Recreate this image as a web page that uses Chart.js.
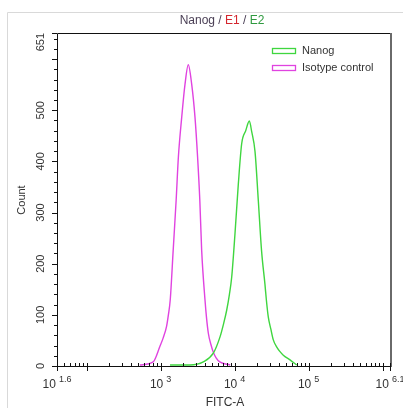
<!DOCTYPE html>
<html>
<head>
<meta charset="utf-8">
<script src="https://cdn.jsdelivr.net/npm/chart.js@4/dist/chart.umd.min.js"></script>
<style>
html,body{margin:0;padding:0;background:#fff;}
canvas{display:block;}
</style>
</head>
<body>
<canvas id="c" width="403" height="408"></canvas>
<script>
// ---- data ----
const isotypeFITC  = [525, 794, 977, 1084, 1202, 1274, 1349, 1479, 1622, 1738, 1928, 2138, 2366, 2630, 2917, 3162, 3388, 3589, 3981, 4169, 4416, 4786, 5129, 5623, 6310, 8710];
const isotypeCount = [2,   8,   38,  55,   77,   100,  129,  226,  324,  408,  486,  551,  589,  551,  486,  408,  324,  226,  129,  95,   64,   42,   28,   16,   8,    2];

const nanogFITC  = [1340, 2495, 3776, 5152, 6353, 7079, 7816, 8511, 9141, 10116, 11220, 12474, 14125, 15812, 17022, 18880, 20941, 23174, 25704, 26915, 28510, 30903, 33343, 37154, 41115, 45499, 56105, 69024];
const nanogCount = [2,    2,    8,    25,   57,   82,   109,  140,  174,  258,   355,   435,   460,   479,   458,   419,   322,   224,   160,   128,   96,    72,    51,    37,    28,    21,    12,    2];

const seriesNames = ["Nanog", "Isotype control"];
const xMajorExp   = ["1.6", "3", "4", "5", "6.1"];
const xMajorVals  = [39.81, 1000, 10000, 100000, 1258925];
const yTickVals   = [0, 100, 200, 300, 400, 500, 651];
const yMin = 0, yMax = 651;
const xMin = 39.81, xMax = 1258925;
const titleParts = [["Nanog", "#4a3f55"], [" / ", "#4a3f55"], ["E1", "#d4262e"], [" / ", "#4a3f55"], ["E2", "#2f9a3f"]];
const xTitle = "FITC-A", yTitle = "Count";

const GREEN = "#3fd63f", MAGENTA = "#e043e0";
const FONT = "'Liberation Sans', Arial, sans-serif";

function pts(xs, ys){ return xs.map((x,i)=>({x:x, y:ys[i]})); }

const decor = {
  id: 'decor',
  afterDraw(chart){
    const ctx = chart.ctx, a = chart.chartArea;
    const xs = chart.scales.x, ys = chart.scales.y;
    ctx.save();
    // outer light frame
    ctx.strokeStyle = "#d9d9d9"; ctx.lineWidth = 1;
    ctx.beginPath(); ctx.moveTo(7.5, 408); ctx.lineTo(7.5, 12.5); ctx.lineTo(403, 12.5); ctx.stroke();
    // plot border
    ctx.strokeStyle = "#111"; ctx.lineWidth = 1;
    ctx.beginPath();
    ctx.moveTo(a.left + 0.5, a.bottom + 0.5); ctx.lineTo(a.left + 0.5, a.top + 0.5); ctx.lineTo(a.right, a.top + 0.5);
    ctx.moveTo(a.left, a.bottom + 0.5); ctx.lineTo(a.right, a.bottom + 0.5);
    ctx.stroke();
    ctx.strokeStyle = "#6a6a6a"; ctx.lineWidth = 2;
    ctx.beginPath(); ctx.moveTo(a.right + 1, a.top); ctx.lineTo(a.right + 1, a.bottom + 1); ctx.stroke();

    // y ticks
    ctx.strokeStyle = "#111"; ctx.lineWidth = 1;
    ctx.beginPath();
    for (let v = 0; v <= 640; v += 20) {
      const y = Math.round(ys.getPixelForValue(v)) + 0.5;
      const len = (v % 100 === 0) ? 5 : 3;
      ctx.moveTo(a.left - len, y); ctx.lineTo(a.left, y);
    }
    const yt = Math.round(ys.getPixelForValue(651)) + 0.5;
    ctx.moveTo(a.left - 5, yt); ctx.lineTo(a.left, yt);
    ctx.stroke();
    // y labels
    ctx.fillStyle = "#333"; ctx.font = "11px " + FONT; ctx.textBaseline = "middle";
    yTickVals.forEach(v => {
      let y = ys.getPixelForValue(v);
      const s = String(v);
      ctx.save();
      ctx.translate(41, y);
      ctx.rotate(-Math.PI/2);
      if (v === 651) { ctx.textAlign = "right"; ctx.fillText(s, 0, 0); }
      else { ctx.textAlign = "center"; ctx.fillText(s, 0, 0); }
      ctx.restore();
    });
    // y title
    ctx.save(); ctx.translate(22, 200); ctx.rotate(-Math.PI/2);
    ctx.textAlign = "center"; ctx.fillStyle = "#333"; ctx.font = "11px " + FONT;
    ctx.fillText(yTitle, 0, 0); ctx.restore();

    // x ticks
    ctx.beginPath();
    for (let e = 1; e <= 6; e++) {
      for (let m = 1; m <= 9; m++) {
        const v = m * Math.pow(10, e);
        if (v < xMin || v > xMax) continue;
        const x = Math.round(xs.getPixelForValue(v)) + 0.5;
        if (m === 1) { ctx.moveTo(x, a.bottom - 3); ctx.lineTo(x, a.bottom + 5); }
        else { ctx.moveTo(x, a.bottom - 3); ctx.lineTo(x, a.bottom); }
      }
    }
    [xMin, xMax].forEach(v => { const x = Math.round(xs.getPixelForValue(v)) + 0.5; ctx.moveTo(x, a.bottom - 3); ctx.lineTo(x, a.bottom + 5); });
    ctx.stroke();
    // x labels with superscripts
    ctx.textBaseline = "alphabetic"; ctx.textAlign = "left"; ctx.fillStyle = "#333";
    xMajorVals.forEach((v, i) => {
      const x = xs.getPixelForValue(v);
      ctx.font = "12px " + FONT; const w1 = ctx.measureText("10").width;
      ctx.font = "9px " + FONT; const w2 = ctx.measureText(xMajorExp[i]).width;
      const gap = 3;
      const start = x - (w1 + gap + w2) / 2;
      ctx.font = "12px " + FONT; ctx.fillText("10", start, 388);
      ctx.font = "9px " + FONT; ctx.fillText(xMajorExp[i], start + w1 + gap, 382);
    });
    // x title
    ctx.font = "12px " + FONT; ctx.textAlign = "center"; ctx.fillStyle = "#333";
    ctx.fillText(xTitle, 225, 406);

    // title
    ctx.font = "12px " + FONT; ctx.textAlign = "left"; ctx.textBaseline = "alphabetic";
    let tw = 0; titleParts.forEach(p => tw += ctx.measureText(p[0]).width);
    let tx = 222 - tw / 2;
    titleParts.forEach(p => { ctx.fillStyle = p[1]; ctx.fillText(p[0], tx, 24); tx += ctx.measureText(p[0]).width; });

    // legend
    const cols = [GREEN, MAGENTA];
    ctx.font = "11px " + FONT; ctx.textBaseline = "middle";
    seriesNames.forEach((n, i) => {
      const y = 51 + i * 17;
      ctx.strokeStyle = cols[i]; ctx.lineWidth = 1.3;
      ctx.strokeRect(272.5, y - 2.5, 23, 5);
      ctx.fillStyle = "#333"; ctx.fillText(n, 302, y);
    });
    ctx.restore();
  }
};

new Chart(document.getElementById('c'), {
  type: 'line',
  data: {
    datasets: [
      { label: seriesNames[0], data: pts(nanogFITC, nanogCount), borderColor: GREEN, borderWidth: 1.4, pointRadius: 0, tension: 0.4, cubicInterpolationMode: 'monotone', fill: false },
      { label: seriesNames[1], data: pts(isotypeFITC, isotypeCount), borderColor: MAGENTA, borderWidth: 1.4, pointRadius: 0, tension: 0.4, cubicInterpolationMode: 'monotone', fill: false }
    ]
  },
  options: {
    responsive: false,
    devicePixelRatio: 1,
    animation: false,
    layout: { padding: { left: 57, right: 13, top: 33, bottom: 42 } },
    plugins: { legend: { display: false }, title: { display: false }, tooltip: { enabled: false } },
    scales: {
      x: { type: 'logarithmic', min: xMin, max: xMax, display: false },
      y: { type: 'linear', min: yMin, max: yMax, display: false }
    }
  },
  plugins: [decor]
});
</script>
</body>
</html>
